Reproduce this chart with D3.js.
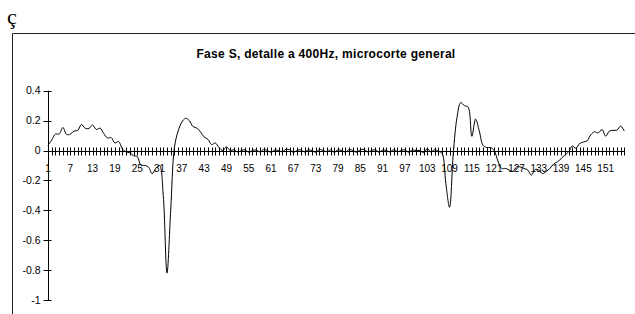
<!DOCTYPE html>
<html>
<head>
<meta charset="utf-8">
<script src="https://cdn.jsdelivr.net/npm/d3@7"></script>
<style>
	body{ margin:0; background:#fff; }
	svg{ display:block; }
	text{ font-family:"Liberation Sans", Arial, sans-serif; fill:#000; }
</style>
</head>
<body>
<svg id="chart" width="635" height="314"></svg>
<script>
// valores (156 muestras)
var faseS_1 = [0.035, 0.07, 0.11, 0.11, 0.154, 0.107, 0.11, 0.13, 0.135, 0.174,
	0.149, 0.147, 0.17, 0.14, 0.15, 0.113, 0.084, 0.086, 0.05, 0.06];
var faseS_2 = [0.01, -0.01, -0.015, -0.035, -0.04, -0.1, -0.1, -0.11, -0.155, -0.12,
	-0.1, -0.3, -0.82, -0.4, 0.02, 0.13, 0.19, 0.215, 0.2, 0.16,
	0.15, 0.125, 0.09, 0.075, 0.04, 0.05, 0.02, 0.0, 0.025, 0.0];
var faseS_3 = [0.005, -0.01, 0, 0.005, -0.012, 0, 0.004, -0.01, 0.006, 0,
	-0.012, 0.003, 0, -0.008, 0.008, 0.005, -0.012, 0, 0.005, -0.01,
	0.004, 0, -0.012, 0.006, 0, -0.008, 0.004, -0.012, 0.005, 0,
	-0.01, 0.006, 0, -0.012, 0.004, 0.008, -0.01, 0, 0.005, -0.012,
	0.003, 0, -0.01, 0.006, -0.008, 0, 0.005, -0.012, 0.004, 0];
var faseS_4 = [0.0, -0.015, 0.012, -0.01, 0.005, -0.005, -0.02, -0.22, -0.38, -0.02,
	0.22, 0.32, 0.3, 0.29, 0.095, 0.21, 0.13, 0.035, 0.02, 0.02, 0.0];
var faseS_5 = [-0.07, -0.12, -0.12, -0.13, -0.14, -0.11, -0.11, -0.12, -0.13, -0.165,
	-0.127, -0.13, -0.155, -0.14, -0.12, -0.09, -0.076, -0.055, -0.03, -0.01,
	0.03, 0.015, 0.047, 0.057, 0.065, 0.105, 0.125, 0.118, 0.14, 0.096,
	0.13, 0.135, 0.136, 0.163, 0.13];
var values = faseS_1.concat(faseS_2, faseS_3, faseS_4, faseS_5);
var categories = values.map(function(v, i){ return i + 1; });
var yTicks = [0.4, 0.2, 0, -0.2, -0.4, -0.6, -0.8, -1];
var yTickLabels = ["0.4", "0.2", "0", "-0.2", "-0.4", "-0.6", "-0.8", "-1"];
var titleText = "Fase S, detalle a 400Hz, microcorte general";

var svg = d3.select("#chart");

// marco del grafico (recortado a la derecha y abajo)
svg.append("path")
	.attr("d", "M 12.5 330 L 12.5 33.5 L 640 33.5")
	.attr("fill", "none")
	.attr("stroke", "#222")
	.attr("stroke-width", 1);

svg.append("text")
	.attr("x", 7).attr("y", 24)
	.style("font-family", "'Liberation Serif', 'Times New Roman', serif")
	.style("font-size", "22px")
	.text("ç");

svg.append("text")
	.attr("x", 326).attr("y", 58)
	.attr("text-anchor", "middle")
	.style("font-size", "12px")
	.style("font-weight", "bold")
	.style("letter-spacing", "0.3px")
	.text(titleText);

var x = d3.scalePoint()
	.domain(categories)
	.range([48, 624.3]);
var y = d3.scaleLinear()
	.domain([-1, 0.4])
	.range([300, 90.7]);

// eje y
var yAxis = svg.append("g").attr("transform", "translate(48.5,0)");
yAxis.append("line")
	.attr("y1", y(0.4)).attr("y2", y(-1))
	.attr("stroke", "#000");
yAxis.selectAll("line.tick").data(yTicks).enter()
	.append("line").attr("class", "tick")
	.attr("x1", -5).attr("x2", 3)
	.attr("y1", function(d){ return Math.round(y(d)) + 0.5; })
	.attr("y2", function(d){ return Math.round(y(d)) + 0.5; })
	.attr("stroke", "#000");
yAxis.selectAll("text").data(yTicks).enter()
	.append("text")
	.attr("x", -8)
	.attr("y", function(d){ return y(d); })
	.attr("dy", "0.35em")
	.attr("text-anchor", "end")
	.style("font-size", "10.5px")
	.text(function(d, i){ return yTickLabels[i]; });

// eje x (cruza en 0)
var y0 = Math.round(y(0)) + 0.5;
var xAxis = svg.append("g");
xAxis.append("line")
	.attr("x1", 48).attr("x2", 625)
	.attr("y1", y0).attr("y2", y0)
	.attr("stroke", "#000");
xAxis.selectAll("line.tick").data(categories).enter()
	.append("line").attr("class", "tick")
	.attr("x1", function(d){ return Math.round(x(d)) + 0.5; })
	.attr("x2", function(d){ return Math.round(x(d)) + 0.5; })
	.attr("y1", y0 - 4).attr("y2", y0 + 4)
	.attr("stroke", "#000");
xAxis.selectAll("text")
	.data(categories.filter(function(d){ return (d - 1) % 6 === 0 && d <= 151; }))
	.enter()
	.append("text")
	.attr("x", function(d){ return x(d); })
	.attr("y", y0 + 20)
	.attr("text-anchor", "middle")
	.style("font-size", "10px")
	.text(function(d){ return d; });

// serie
var line = d3.line()
	.x(function(d, i){ return x(categories[i]); })
	.y(function(d){ return y(d); })
	.curve(d3.curveCatmullRom);
svg.append("path")
	.datum(values)
	.attr("d", line)
	.attr("fill", "none")
	.attr("stroke", "#000")
	.attr("stroke-width", 1);
</script>
</body>
</html>
